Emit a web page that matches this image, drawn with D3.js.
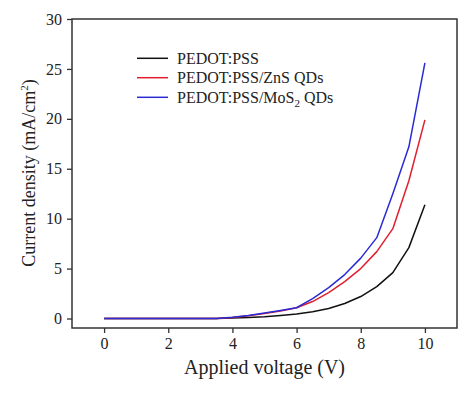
<!DOCTYPE html>
<html><head><meta charset="utf-8">
<script src="https://cdn.jsdelivr.net/npm/d3@7"></script>
<style>body{margin:0;background:#fff}svg{display:block}text{font-family:"Liberation Serif","Times New Roman",serif;fill:#222}</style>
</head><body><svg id="c" width="474" height="396"></svg>
<script>
const voltage = [0,0.5,1,1.5,2,2.5,3,3.5,4,4.5,5,5.5,6,6.5,7,7.5,8,8.5,9,9.5,10];
const pedot   = [0,0,0,0,0,0,0,0,0.05,0.1,0.18,0.3,0.45,0.68,1.0,1.5,2.2,3.2,4.6,7.1,11.4];
const znsQDs  = [0,0,0,0,0,0,0,0,0.1,0.28,0.5,0.75,1.08,1.7,2.6,3.7,5.0,6.7,9.0,13.8,19.9];
const mos2QDs = [0,0,0,0,0,0,0,0,0.12,0.3,0.55,0.8,1.08,2.0,3.1,4.4,6.05,8.1,12.5,17.2,25.6];
const seriesNames = ["PEDOT:PSS","PEDOT:PSS/ZnS QDs","PEDOT:PSS/MoS2 QDs"];
const seriesColors = ["#111111","#e0202e","#2b2bd6"];
const xTicks = [0,2,4,6,8,10];
const yTicks = [0,5,10,15,20,25,30];

const svg = d3.select("#c");
const L=72,R=457,T=19,B=328;
const x = d3.scaleLinear().domain([-1,11]).range([L,R]);
const y = d3.scaleLinear().domain([-0.95,30]).range([B,T]);
const axisColor="#333";

const all=[pedot,znsQDs,mos2QDs];
const line=d3.line().x((d,i)=>x(voltage[i])).y(d=>y(d));
all.forEach((s,k)=>{
  svg.append("path").datum(s).attr("d",line).attr("fill","none")
    .attr("stroke",seriesColors[k]).attr("stroke-width",1.5).attr("stroke-linejoin","round");
});

svg.append("rect").attr("x",L).attr("y",T).attr("width",R-L).attr("height",B-T)
  .attr("fill","none").attr("stroke",axisColor).attr("stroke-width",1.5);

const gx=svg.append("g").attr("transform",`translate(0,${B})`);
gx.call(d3.axisBottom(x).tickValues(d3.range(-1,11.01,1)).tickSize(3).tickFormat(""))
gx.call(d3.axisBottom(x).tickValues(xTicks).tickSize(5).tickPadding(5).tickFormat(d3.format("d")));
gx.selectAll(".domain").remove();
gx.selectAll("line").attr("stroke",axisColor).attr("stroke-width",1.3);
gx.selectAll("text").attr("font-size",16).style("font-family","Liberation Serif").attr("fill","#222");

const gy=svg.append("g").attr("transform",`translate(${L},0)`);
gy.call(d3.axisLeft(y).tickValues(d3.range(0,30.01,2.5)).tickSize(3).tickFormat(""));
gy.call(d3.axisLeft(y).tickValues(yTicks).tickSize(5).tickPadding(5).tickFormat(d3.format("d")));
gy.selectAll(".domain").remove();
gy.selectAll("line").attr("stroke",axisColor).attr("stroke-width",1.3);
gy.selectAll("text").attr("font-size",16).style("font-family","Liberation Serif").attr("fill","#222");

svg.append("text").attr("x",(L+R)/2).attr("y",374).attr("text-anchor","middle")
  .attr("font-size",20).text("Applied voltage (V)");

const yl=svg.append("text").attr("transform","translate(35,173) rotate(-90)")
  .attr("text-anchor","middle").attr("font-size",18);
yl.append("tspan").text("Current density (mA/cm");
yl.append("tspan").attr("font-size",11).attr("dy",-7).text("2");
yl.append("tspan").attr("dy",7).text(")");

const ly=[58.3,77.7,97.3];
seriesNames.forEach((n,k)=>{
  svg.append("line").attr("x1",137).attr("x2",168).attr("y1",ly[k]).attr("y2",ly[k])
    .attr("stroke",seriesColors[k]).attr("stroke-width",1.5);
  const t=svg.append("text").attr("x",177).attr("y",ly[k]+5.5).attr("font-size",16);
  if(n.includes("MoS2")){
    t.append("tspan").text("PEDOT:PSS/MoS");
    t.append("tspan").attr("font-size",11).attr("dy",4).text("2");
    t.append("tspan").attr("dy",-4).text(" QDs");
  } else t.text(n);
});
</script></body></html>
